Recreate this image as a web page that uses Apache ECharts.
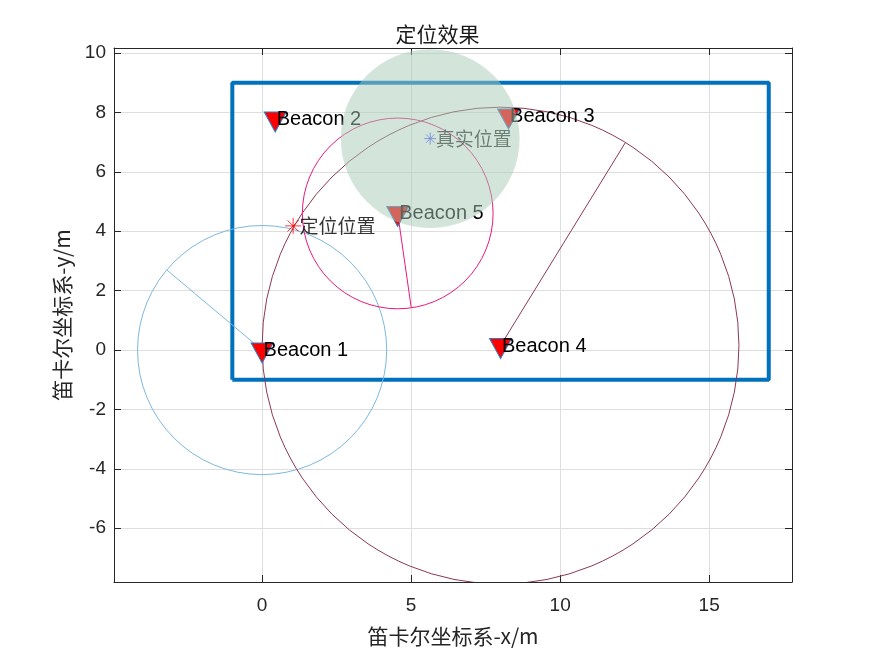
<!DOCTYPE html>
<html>
<head>
<meta charset="utf-8">
<script src="https://cdn.jsdelivr.net/npm/echarts@6/dist/echarts.min.js"></script>
<style>html,body{margin:0;padding:0;background:#fff;}#c{width:875px;height:656px;}</style>
</head>
<body>
<div id="c"></div>
<script>
// ---- data ----
const xTicks = [0, 5, 10, 15];
const yTicks = [-6, -4, -2, 0, 2, 4, 6, 8, 10];
const xRange = [-4.97, 17.78];
const yRange = [-7.81, 10.17];
const areaX = [-1, 17, 17, -1, -1];
const areaY = [-1, -1, 9, 9, -1];
const beaconNames = ['Beacon 1', 'Beacon 2', 'Beacon 3', 'Beacon 4', 'Beacon 5'];
const beaconX = [0, 0.44, 8.27, 8.0, 4.55];
const beaconY = [0, 7.78, 7.88, 0.15, 4.6];
// range circles: beacon index, radius, end point of radius line
const circleBeacon = [0, 3, 4];
const circleRadius = [4.18, 8.0, 3.2];
const radiusEndX = [-3.19, 12.18, 5.0];
const radiusEndY = [2.69, 6.97, 1.45];
const estPos = [1.04, 4.18];
const truePos = [5.64, 7.12];
const trueRadius = 3.0;

const circleColors = ['#7db8de', '#8c3a50', '#e8197d'];
const axisColor = '#262626';
const cjk = '"Noto Sans CJK SC", sans-serif';
const latin = '"Liberation Sans", Arial, sans-serif';

const chart = echarts.init(document.getElementById('c'));

function circleRender(colorFn, fill) {
  return function (params, api) {
    const c = api.coord([api.value(0), api.value(1)]);
    const r = api.size([api.value(2), 0])[0];
    return {
      type: 'circle',
      shape: { cx: c[0], cy: c[1], r: r },
      style: fill ? { fill: fill, stroke: 'none' } : { fill: 'none', stroke: colorFn(params.dataIndex), lineWidth: 1 }
    };
  };
}

const asteriskPath = 'path://M10,0L10,20M0,10L20,10M3,3L17,17M3,17L17,3';

const series = [];
// rectangle
series.push({
  type: 'line', name: 'area', data: areaX.map((x, i) => [x, areaY[i]]),
  showSymbol: false, symbol: 'none', lineStyle: { color: '#0072BD', width: 4 }, z: 2, silent: true
});
// range circles
series.push({
  type: 'custom', name: 'circles', clip: true, z: 3,
  data: circleBeacon.map((b, i) => [beaconX[b], beaconY[b], circleRadius[i]]),
  renderItem: circleRender(i => circleColors[i], null)
});
// radius lines
circleBeacon.forEach((b, i) => {
  series.push({
    type: 'line', data: [[beaconX[b], beaconY[b]], [radiusEndX[i], radiusEndY[i]]],
    symbol: 'none', lineStyle: { color: circleColors[i], width: 1 }, z: 3, silent: true
  });
});
// beacons
series.push({
  type: 'scatter', name: 'beacons', z: 4,
  data: beaconNames.map((n, i) => ({ name: n, value: [beaconX[i], beaconY[i]] })),
  symbol: 'triangle', symbolRotate: 180, symbolSize: [22, 20], symbolOffset: [0, 3],
  itemStyle: { color: '#ff0000', borderColor: '#2a7fc4', borderWidth: 1, opacity: 1 },
  label: {
    show: true, formatter: '{b}', position: [13, 8], align: 'left', verticalAlign: 'middle',
    color: '#000', fontFamily: latin, fontSize: 20
  }
});
// estimated position
series.push({
  type: 'scatter', z: 5, data: [{ name: '定位位置', value: estPos }],
  symbol: asteriskPath, symbolSize: 16,
  itemStyle: { color: 'none', borderColor: '#ff0000', borderWidth: 1 },
  label: { show: true, formatter: '{b}', position: 'right', distance: -4, color: '#000', fontFamily: cjk, fontSize: 19 }
});
// true position
series.push({
  type: 'scatter', z: 5, data: [{ name: '真实位置', value: truePos }],
  symbol: asteriskPath, symbolSize: 12,
  itemStyle: { color: 'none', borderColor: '#3344ff', borderWidth: 1 },
  label: { show: true, formatter: '{b}', position: 'right', distance: -3, color: '#000', fontFamily: cjk, fontSize: 19 }
});
// true-position zone overlay
series.push({
  type: 'custom', name: 'zone', clip: true, z: 10,
  data: [[truePos[0], truePos[1], trueRadius]],
  renderItem: circleRender(null, 'rgba(168,202,184,0.5)')
});

const baseX = {
  type: 'value', min: xRange[0], max: xRange[1],
  axisLine: { show: true, onZero: false, lineStyle: { color: axisColor, width: 1 } },
  axisTick: { show: true, inside: true, length: 7, customValues: xTicks, lineStyle: { color: axisColor } },
  axisLabel: { customValues: xTicks, color: axisColor, fontFamily: latin, fontSize: 19, margin: 14 },
  splitLine: { show: true, lineStyle: { color: '#dedede', width: 1 } }
};
const baseY = {
  type: 'value', min: yRange[0], max: yRange[1],
  axisLine: { show: true, onZero: false, lineStyle: { color: axisColor, width: 1 } },
  axisTick: { show: true, inside: true, length: 7, customValues: yTicks, lineStyle: { color: axisColor } },
  axisLabel: { customValues: yTicks, color: axisColor, fontFamily: latin, fontSize: 19, margin: 8 },
  splitLine: { show: true, lineStyle: { color: '#dedede', width: 1 } }
};

chart.setOption({
  animation: false,
  backgroundColor: '#fff',
  title: {
    text: '定位效果', left: 'center', top: 19,
    textStyle: { fontFamily: cjk, fontSize: 21, fontWeight: 'normal', color: '#1a1a1a' }
  },
  grid: { left: 114, right: 83, top: 48, bottom: 74, containLabel: false },
  xAxis: [
    Object.assign({}, baseX, {
      position: 'bottom', name: '笛卡尔坐标系-x/m', nameLocation: 'middle', nameGap: 44,
      nameTextStyle: { fontFamily: cjk, fontSize: 21, color: axisColor }
    }),
    Object.assign({}, baseX, { position: 'top', axisLabel: { show: false }, splitLine: { show: false } })
  ],
  yAxis: [
    Object.assign({}, baseY, {
      position: 'left', name: '笛卡尔坐标系-y/m', nameLocation: 'middle', nameGap: 41,
      nameTextStyle: { fontFamily: cjk, fontSize: 21, color: axisColor }
    }),
    Object.assign({}, baseY, { position: 'right', axisLabel: { show: false }, splitLine: { show: false } })
  ],
  series: series
});
</script>
</body>
</html>
